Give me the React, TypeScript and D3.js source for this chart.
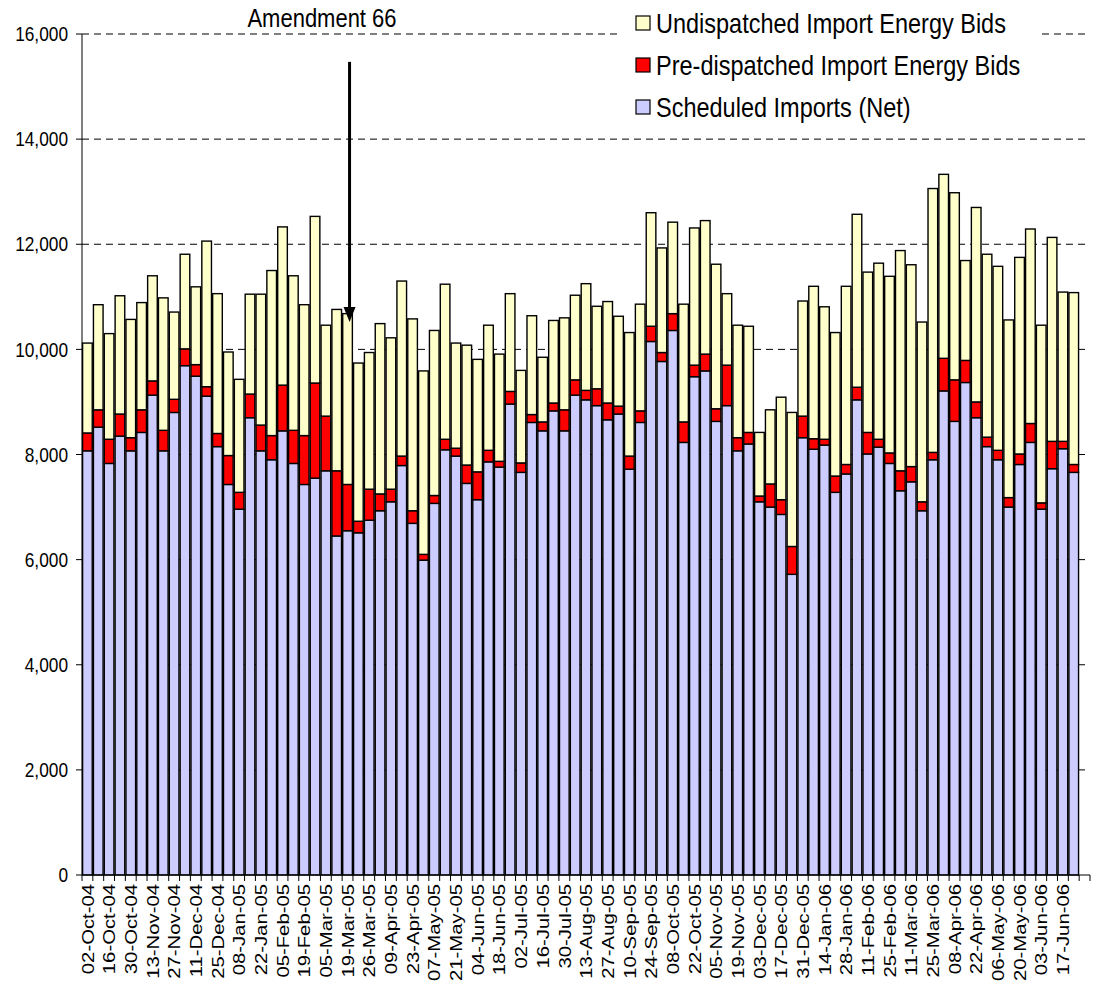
import { useMemo } from 'react'
import * as d3 from 'd3'

const WIDTH = 1095
const HEIGHT = 985
const FONT = 'Liberation Sans, Arial, sans-serif'
// the original picture is a little taller than wide, text included
const STRETCH = 1.15

// every second week gets a label
const tickLabels = [
  '02-Oct-04', '16-Oct-04', '30-Oct-04', '13-Nov-04', '27-Nov-04', '11-Dec-04', '25-Dec-04',
  '08-Jan-05', '22-Jan-05', '05-Feb-05', '19-Feb-05', '05-Mar-05', '19-Mar-05', '26-Mar-05',
  '09-Apr-05', '23-Apr-05', '07-May-05', '21-May-05', '04-Jun-05', '18-Jun-05', '02-Jul-05',
  '16-Jul-05', '30-Jul-05', '13-Aug-05', '27-Aug-05', '10-Sep-05', '24-Sep-05', '08-Oct-05',
  '22-Oct-05', '05-Nov-05', '19-Nov-05', '03-Dec-05', '17-Dec-05', '31-Dec-05', '14-Jan-06',
  '28-Jan-06', '11-Feb-06', '25-Feb-06', '11-Mar-06', '25-Mar-06', '08-Apr-06', '22-Apr-06',
  '06-May-06', '20-May-06', '03-Jun-06', '17-Jun-06',
]

const scheduled = [
  8070, 8520, 7830, 8350, 8070, 8420, 9130, 8070, 8800, 9690, 9490, 9110, 8150, 7430, 6960, 8700,
  8070, 7900, 8450, 7830, 7430, 7550, 7690, 6450, 6550, 6510, 6750, 6930, 7100, 7790, 6690, 5990,
  7070, 8090, 7970, 7450, 7140, 7860, 7760, 8960, 7660, 8610, 8450, 8830, 8450, 9130, 9040, 8930,
  8660, 8770, 7720, 8610, 10150, 9770, 10360, 8230, 9480, 9590, 8630, 8930, 8070, 8200, 7100, 7000,
  6860, 5720, 8320, 8100, 8180, 7280, 7630, 9040, 8010, 8140, 7830, 7310, 7480, 6930, 7900, 9210,
  8630, 9370, 8700, 8150, 7900, 7000, 7810, 8230, 6960, 7730, 8110, 7660,
]

const preDispatched = [
  340, 330, 460, 420, 250, 430, 270, 390, 250, 320, 220, 180, 250, 550, 320, 450,
  490, 460, 870, 630, 930, 1810, 1040, 1240, 880, 220, 590, 320, 240, 180, 240, 110,
  150, 200, 150, 350, 530, 220, 110, 240, 180, 150, 170, 150, 400, 290, 180, 320,
  320, 150, 250, 220, 290, 170, 320, 390, 220, 320, 240, 770, 250, 220, 110, 440,
  280, 530, 410, 200, 110, 310, 180, 240, 410, 150, 200, 380, 290, 170, 140, 620,
  790, 420, 300, 180, 180, 180, 200, 360, 120, 520, 140, 150,
]

const undispatched = [
  1710, 2000, 2010, 2250, 2250, 2040, 2000, 2520, 1660, 1800, 1480, 2770, 2660, 1970, 2150, 1900,
  2490, 3140, 3010, 2940, 2490, 3170, 1730, 3070, 3250, 3010, 2600, 3240, 2880, 3330, 3650, 3490,
  3140, 2950, 2000, 2280, 2140, 2380, 2040, 1860, 1760, 1880, 1230, 1570, 1750, 1610, 2030, 1570,
  1930, 1710, 2350, 2030, 2160, 1990, 1740, 2240, 2610, 2540, 2750, 1360, 2140, 2020, 1210, 1410,
  1950, 2550, 2190, 2900, 2520, 2730, 3390, 3290, 3050, 3350, 3360, 4190, 3840, 3420, 5020, 3500,
  3560, 1900, 3700, 3480, 3500, 3380, 3740, 3700, 3380, 3880, 2840, 3270,
]

const seriesKeys = ['scheduled', 'preDispatched', 'undispatched']
const seriesColors = { scheduled: '#CCCCFF', preDispatched: '#FF0000', undispatched: '#FFFFCC' }
const legendItems = [
  { key: 'undispatched', label: 'Undispatched Import Energy Bids' },
  { key: 'preDispatched', label: 'Pre-dispatched Import Energy Bids' },
  { key: 'scheduled', label: 'Scheduled Imports (Net)' },
]
const yTicks = [0, 2000, 4000, 6000, 8000, 10000, 12000, 14000, 16000]

const annotation = { label: 'Amendment 66', week: 24, from: 15470, to: 10520 }

// one empty slot after the last week, as in the original
const slotCount = scheduled.length + 1

export default function App() {
  const x = useMemo(
    () => d3.scaleBand<number>().domain(d3.range(slotCount)).range([82, 1090]).padding(0),
    []
  )
  const y = useMemo(() => d3.scaleLinear().domain([0, 16000]).range([875, 34]), [])

  const stacked = useMemo(() => {
    const rows = scheduled.map((s, i) => ({
      i,
      scheduled: s,
      preDispatched: preDispatched[i],
      undispatched: undispatched[i],
    }))
    return d3.stack<any>().keys(seriesKeys)(rows)
  }, [])

  const bw = x.bandwidth()
  const fmt = d3.format(',')
  const arrowX = x(annotation.week)! + bw / 2 + 2

  return (
    <svg
      width={WIDTH}
      height={HEIGHT}
      style={{ position: 'absolute', left: 0, top: 0, background: '#fff' }}
      fontFamily={FONT}
    >
      {/* gridlines */}
      {yTicks.slice(1).map((t) => (
        <line
          key={t}
          x1={82}
          x2={1090}
          y1={y(t)}
          y2={y(t)}
          stroke="#000"
          strokeWidth={1}
          strokeDasharray="7,5"
        />
      ))}

      {/* bars */}
      {stacked.map((layer) => (
        <g key={layer.key} fill={(seriesColors as any)[layer.key]}>
          {layer.map((d, i) => (
            <rect
              key={i}
              x={x(i)! + 0.6}
              width={bw - 1.2}
              y={y(d[1])}
              height={y(d[0]) - y(d[1])}
              stroke="#000"
              strokeWidth={1.4}
            />
          ))}
        </g>
      ))}

      {/* y axis */}
      <line x1={82} x2={82} y1={y(16000)} y2={y(0)} stroke="#000" strokeWidth={1} />
      {yTicks.map((t) => (
        <g key={t} transform={`translate(0,${y(t)})`}>
          <line x1={76} x2={82} stroke="#000" />
          <text
            transform={`translate(68,0) scale(1,${STRETCH})`}
            textAnchor="end"
            dy="0.36em"
            fontSize={17.3}
          >
            {fmt(t)}
          </text>
        </g>
      ))}

      {/* x axis */}
      <line x1={82} x2={1090} y1={y(0)} y2={y(0)} stroke="#000" strokeWidth={1} />
      {d3.range(slotCount + 1).map((k) => {
        const xx = k < slotCount ? x(k)! : x(slotCount - 1)! + bw
        return <line key={k} x1={xx} x2={xx} y1={y(0)} y2={y(0) + 6} stroke="#000" />
      })}
      {tickLabels.map((lab, j) => {
        const cx = x(j * 2)! + bw / 2
        return (
          <text
            key={lab}
            transform={`translate(${cx},884) rotate(-90) scale(1.18,1)`}
            textAnchor="end"
            dy="0.36em"
            fontSize={17.2}
          >
            {lab}
          </text>
        )
      })}

      {/* annotation */}
      <text
        transform={`translate(322,27) scale(1,${STRETCH})`}
        textAnchor="middle"
        fontSize={22}
      >
        {annotation.label}
      </text>
      <line
        x1={arrowX}
        x2={arrowX}
        y1={y(annotation.from)}
        y2={y(annotation.to) - 12}
        stroke="#000"
        strokeWidth={3}
      />
      <path
        d={`M${arrowX - 6},${y(annotation.to) - 15} L${arrowX + 6},${y(annotation.to) - 15} L${arrowX},${y(annotation.to)} Z`}
        fill="#000"
      />

      {/* legend */}
      <rect x={620} y={0} width={420} height={126} fill="#fff" />
      {legendItems.map((item, k) => {
        const cy = 23 + k * 42
        return (
          <g key={item.key}>
            <rect
              x={636}
              y={cy - 7}
              width={14}
              height={14}
              fill={(seriesColors as any)[item.key]}
              stroke="#000"
              strokeWidth={1.2}
            />
            <text
              transform={`translate(656,${cy}) scale(1,${STRETCH})`}
              dy="0.36em"
              fontSize={23.5}
            >
              {item.label}
            </text>
          </g>
        )
      })}
    </svg>
  )
}
